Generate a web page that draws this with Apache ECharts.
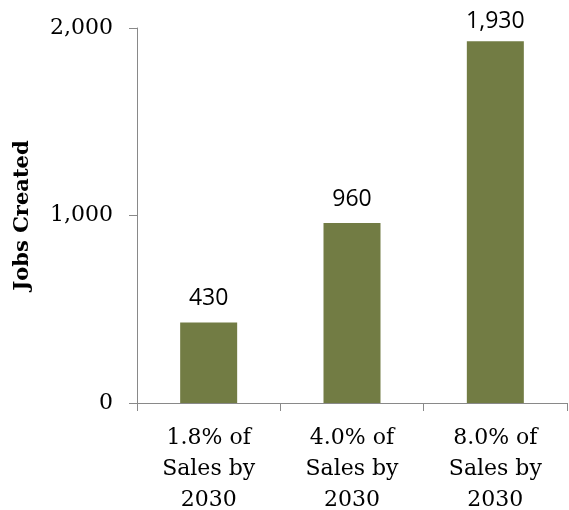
<!DOCTYPE html>
<html>
<head>
<meta charset="utf-8">
<script src="https://cdn.jsdelivr.net/npm/echarts@6/dist/echarts.min.js"></script>
<style>
html,body{margin:0;padding:0;background:#fff;}
#chart{width:569px;height:510px;}
</style>
</head>
<body>
<div id="chart"></div>
<script>
var categories = ["1.8% of\nSales by\n2030", "4.0% of\nSales by\n2030", "8.0% of\nSales by\n2030"];
var jobsCreated = [430, 960, 1930];
var yTicks = [0, 1000, 2000];

var barData = jobsCreated.map(function (v, i) {
  // the tallest bar's label sits a little closer to the bar, as in the reference
  return i === jobsCreated.length - 1 ? {value: v, label: {distance: 8}} : {value: v};
});

var chart = echarts.init(document.getElementById('chart'), null, {renderer: 'canvas'});
chart.setOption({
  animation: false,
  backgroundColor: '#ffffff',
  grid: {left: 137, right: 2, top: 28, bottom: 107, containLabel: false, outerBoundsMode: 'none'},
  xAxis: {
    type: 'category',
    data: categories,
    axisLine: {lineStyle: {color: '#898989', width: 1}},
    axisTick: {show: true, length: 8, lineStyle: {color: '#898989'}},
    axisLabel: {
      color: '#000', fontFamily: 'DejaVu Serif', fontSize: 22,
      lineHeight: 31, margin: 20, interval: 0
    }
  },
  yAxis: {
    type: 'value',
    min: yTicks[0], max: yTicks[yTicks.length - 1], interval: 1000,
    name: 'Jobs Created',
    nameLocation: 'middle',
    nameGap: 104,
    nameRotate: 90,
    nameTextStyle: {color: '#000', fontFamily: 'DejaVu Serif', fontWeight: 'bold', fontSize: 21},
    axisLine: {show: true, lineStyle: {color: '#898989', width: 1}},
    axisTick: {show: true, length: 8, lineStyle: {color: '#898989'}},
    splitLine: {show: false},
    axisLabel: {
      color: '#000', fontFamily: 'DejaVu Serif', fontSize: 22, margin: 24,
      formatter: function (v) { return v.toLocaleString('en-US'); }
    }
  },
  series: [{
    type: 'bar',
    data: barData,
    barWidth: 57,
    itemStyle: {color: '#727C44'},
    label: {
      show: true, position: 'top', distance: 12,
      color: '#000', fontFamily: 'Open Sans', fontSize: 23,
      formatter: function (p) { return p.value.toLocaleString('en-US'); }
    }
  }]
});
</script>
</body>
</html>
